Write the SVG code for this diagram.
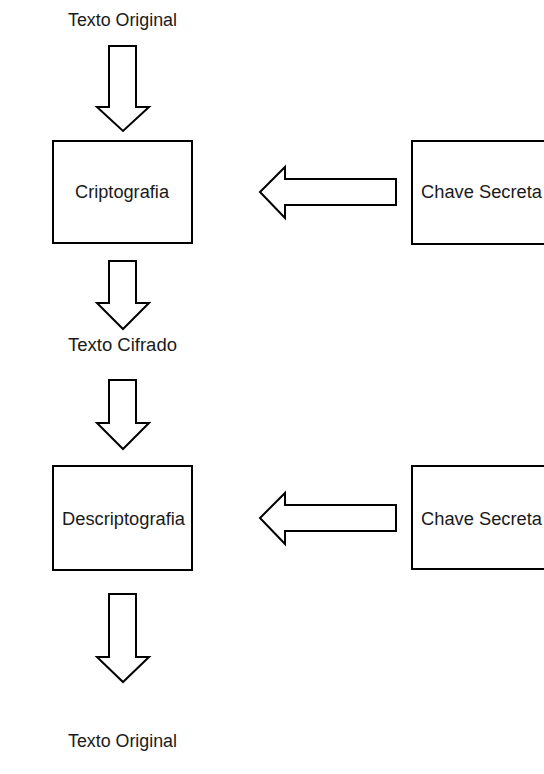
<svg xmlns="http://www.w3.org/2000/svg" width="544" height="774" viewBox="0 0 544 774">
<style>
  .box { fill: #ffffff; stroke: #000000; stroke-width: 2; }
  .arr { fill: #ffffff; stroke: #000000; stroke-width: 2; stroke-linejoin: miter; }
  .lbl { font-family: "Liberation Sans", Arial, sans-serif; font-size: 18px; fill: #1a1a1a; }
</style>
<rect width="544" height="774" fill="#ffffff"/>
<g id="texto-original-top">
  <text class="lbl" x="68" y="26" textLength="109" lengthAdjust="spacingAndGlyphs">Texto Original</text>
</g>
<g id="criptografia">
  <rect class="box" x="53" y="141" width="139" height="102"/>
  <text class="lbl" x="75" y="198" textLength="94" lengthAdjust="spacingAndGlyphs">Criptografia</text>
</g>
<g id="chave-secreta-1">
  <rect class="box" x="412" y="141" width="200" height="103"/>
  <text class="lbl" x="421" y="198" textLength="121" lengthAdjust="spacingAndGlyphs">Chave Secreta</text>
</g>
<g id="texto-cifrado">
  <text class="lbl" x="68" y="351" textLength="109" lengthAdjust="spacingAndGlyphs">Texto Cifrado</text>
</g>
<g id="descriptografia">
  <rect class="box" x="53" y="466" width="139" height="104"/>
  <text class="lbl" x="62" y="525" textLength="123" lengthAdjust="spacingAndGlyphs">Descriptografia</text>
</g>
<g id="chave-secreta-2">
  <rect class="box" x="412" y="466" width="200" height="103"/>
  <text class="lbl" x="421" y="525" textLength="121" lengthAdjust="spacingAndGlyphs">Chave Secreta</text>
</g>
<g id="texto-original-bottom">
  <text class="lbl" x="68" y="747" textLength="109" lengthAdjust="spacingAndGlyphs">Texto Original</text>
</g>
<g id="connectors">
  <polygon class="arr" points="109,46 136,46 136,107 149,107 123,131 97,107 109,107"/>
  <polygon class="arr" points="109,261 136,261 136,303 149,303 123,329 97,303 109,303"/>
  <polygon class="arr" points="109,380 136,380 136,423 149,423 123,449 97,423 109,423"/>
  <polygon class="arr" points="109,594 136,594 136,657 149,657 123,682 97,657 109,657"/>
  <polygon class="arr" points="396,179 396,205 285,205 285,218 260,192 285,167 285,179"/>
  <polygon class="arr" points="396,505 396,531 285,531 285,544 260,518 285,493 285,505"/>
</g>
</svg>
